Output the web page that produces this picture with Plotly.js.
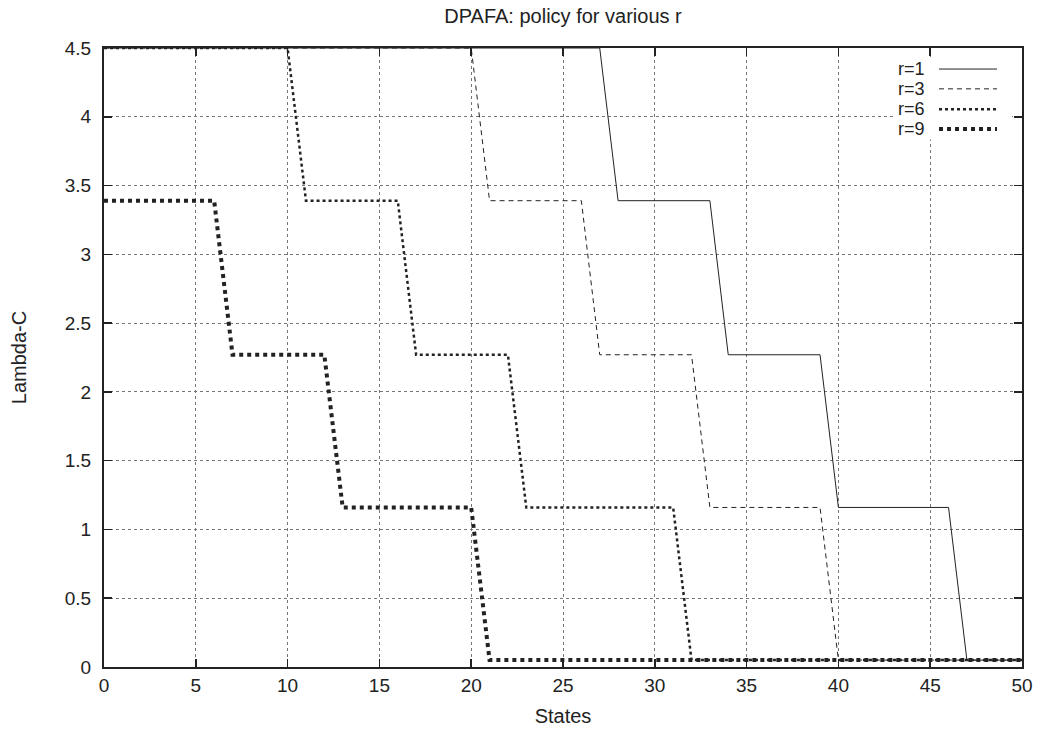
<!DOCTYPE html>
<html>
<head>
<meta charset="utf-8">
<script src="https://cdn.plot.ly/plotly-3.0.1.min.js"></script>
<style>html,body{margin:0;padding:0;background:#fff;}#chart{width:1042px;height:734px;}</style>
</head>
<body>
<div id="chart"></div>
<script>
// States 0..50
const states = [0,1,2,3,4,5,6,7,8,9,10,11,12,13,14,15,16,17,18,19,20,21,22,23,24,25,26,27,28,29,30,31,32,33,34,35,36,37,38,39,40,41,42,43,44,45,46,47,48,49,50];

const r1 = [4.5,4.5,4.5,4.5,4.5,4.5,4.5,4.5,4.5,4.5,4.5,4.5,4.5,4.5,4.5,4.5,4.5,4.5,4.5,4.5,4.5,4.5,4.5,4.5,4.5,4.5,4.5,4.5,
            3.39,3.39,3.39,3.39,3.39,3.39,
            2.27,2.27,2.27,2.27,2.27,2.27,
            1.16,1.16,1.16,1.16,1.16,1.16,1.16,
            0.05,0.05,0.05,0.05];
const r3 = [4.5,4.5,4.5,4.5,4.5,4.5,4.5,4.5,4.5,4.5,4.5,4.5,4.5,4.5,4.5,4.5,4.5,4.5,4.5,4.5,4.5,
            3.39,3.39,3.39,3.39,3.39,3.39,
            2.27,2.27,2.27,2.27,2.27,2.27,
            1.16,1.16,1.16,1.16,1.16,1.16,1.16,
            0.05,0.05,0.05,0.05,0.05,0.05,0.05,0.05,0.05,0.05,0.05];
const r6 = [4.5,4.5,4.5,4.5,4.5,4.5,4.5,4.5,4.5,4.5,4.5,
            3.39,3.39,3.39,3.39,3.39,3.39,
            2.27,2.27,2.27,2.27,2.27,2.27,
            1.16,1.16,1.16,1.16,1.16,1.16,1.16,1.16,1.16,
            0.05,0.05,0.05,0.05,0.05,0.05,0.05,0.05,0.05,0.05,0.05,0.05,0.05,0.05,0.05,0.05,0.05,0.05,0.05];
const r9 = [3.39,3.39,3.39,3.39,3.39,3.39,3.39,
            2.27,2.27,2.27,2.27,2.27,2.27,
            1.16,1.16,1.16,1.16,1.16,1.16,1.16,1.16,
            0.05,0.05,0.05,0.05,0.05,0.05,0.05,0.05,0.05,0.05,0.05,0.05,0.05,0.05,0.05,0.05,0.05,0.05,0.05,0.05,0.05,0.05,0.05,0.05,0.05,0.05,0.05,0.05,0.05,0.05];

const seriesNames = ["r=1","r=3","r=6","r=9"];
const seriesValues = [r1, r3, r6, r9];

const xTickVals = [0,5,10,15,20,25,30,35,40,45,50];
const xTickText = ["0","5","10","15","20","25","30","35","40","45","50"];
const yTickVals = [0,0.5,1,1.5,2,2.5,3,3.5,4,4.5];
const yTickText = ["0","0.5","1","1.5","2","2.5","3","3.5","4","4.5"];

const ink = '#222222';
const fam = 'Liberation Sans, Arial, Helvetica, sans-serif';
const styles = [
  {width:1, dash:'solid'},
  {width:1, dash:'5px,4px'},
  {width:2.5, dash:'3px,3px'},
  {width:4, dash:'4px,4px'}
];

const traces = seriesValues.map((vals, i) => ({
  type:'scatter', mode:'lines', name: seriesNames[i],
  x: states, y: vals,
  line:{color: ink, width: styles[i].width, dash: styles[i].dash, shape:'linear'},
  showlegend:false, hoverinfo:'x+y+name'
}));

// Legend (gnuplot style: label then sample, opaque box) in axis-domain coordinates
const legY = [0.966, 0.934, 0.901, 0.869];
const annotations = seriesNames.map((n, i) => ({
  xref:'x domain', yref:'y domain', x:0.8965, y:legY[i], xanchor:'right', yanchor:'middle',
  text:n, showarrow:false, font:{family:fam, size:18, color:ink}
}));
const shapes = [{
  type:'rect', xref:'x domain', yref:'y domain', x0:0.8595, x1:0.989, y0:0.852, y1:0.9855,
  fillcolor:'#ffffff', line:{width:0}, layer:'above'
}].concat(seriesNames.map((n, i) => ({
  type:'line', xref:'x domain', yref:'y domain', x0:0.9096, x1:0.9728, y0:legY[i], y1:legY[i],
  line:{color:ink, width:styles[i].width, dash:styles[i].dash}, layer:'above'
})));

const axisCommon = {
  showline:true, linecolor:ink, linewidth:2, mirror:'ticks',
  ticks:'inside', ticklen:8, tickwidth:1.5, tickcolor:ink,
  showgrid:true, gridcolor:'#777', gridwidth:1, griddash:'dot',
  zeroline:false, automargin:false,
  tickfont:{family:fam, size:19, color:ink}
};

const layout = {
  width:1042, height:734,
  margin:{l:104, r:20, t:48, b:67},
  paper_bgcolor:'#fff', plot_bgcolor:'#fff',
  title:{text:'DPAFA: policy for various r', xref:'paper', x:0.5, xanchor:'center',
         yref:'container', y:0.978, yanchor:'middle',
         font:{family:fam, size:20, color:ink}},
  xaxis:Object.assign({}, axisCommon, {
    range:[0,50], tickvals:xTickVals, ticktext:xTickText,
    title:{text:'States', standoff:14, font:{family:fam, size:20, color:ink}}
  }),
  yaxis:Object.assign({}, axisCommon, {
    range:[0,4.5], tickvals:yTickVals, ticktext:yTickText, ticklabelstandoff:7,
    title:{text:'Lambda-C', standoff:33, font:{family:fam, size:20, color:ink}}
  }),
  annotations: annotations,
  shapes: shapes
};

Plotly.newPlot('chart', traces, layout, {displayModeBar:false, staticPlot:true});
</script>
</body>
</html>
